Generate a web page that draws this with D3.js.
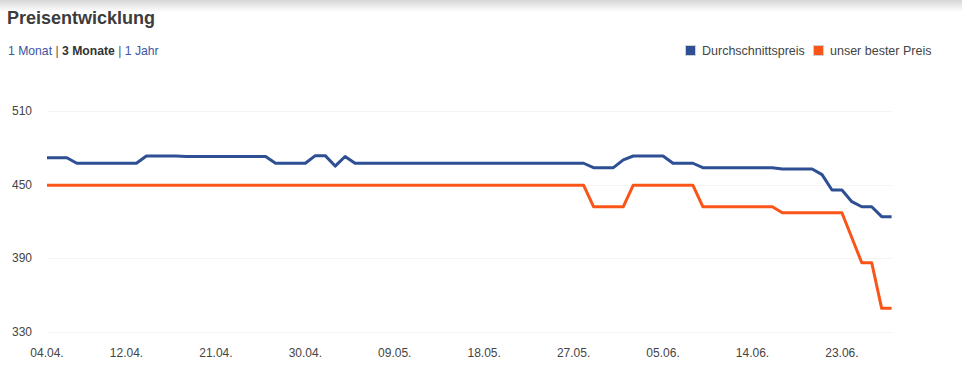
<!DOCTYPE html>
<html>
<head>
<meta charset="utf-8">
<script src="https://cdn.jsdelivr.net/npm/d3@7"></script>
<style>
    body { margin: 0; background: #fff; font-family: Arial, "Liberation Sans", sans-serif; }
    svg { display: block; }
</style>
</head>
<body>
<svg id="chart" width="962" height="387"></svg>
<script>
// Data (daily, 04.04. to 28.06.)
const startDate = "2013-04-04";
const avgPrice = [
    471.8, 471.8, 471.8, 467.3, 467.3, 467.3, 467.3, 467.3, 467.3, 467.3,
    473.2, 473.2, 473.2, 473.2, 472.8, 472.8, 472.8, 472.8, 472.8, 472.8,
    472.8, 472.8, 472.8, 467.3, 467.3, 467.3, 467.3, 473.5, 473.5, 465.0,
    472.8, 467.3, 467.3, 467.3, 467.3, 467.3, 467.3, 467.3, 467.3, 467.3,
    467.3, 467.3, 467.3, 467.3, 467.3, 467.3, 467.3, 467.3, 467.3, 467.3,
    467.3, 467.3, 467.3, 467.3, 467.3, 463.7, 463.7, 463.7, 470.0, 473.2,
    473.2, 473.2, 473.2, 467.3, 467.3, 467.3, 463.7, 463.7, 463.7, 463.7,
    463.7, 463.7, 463.7, 463.7, 462.6, 462.6, 462.6, 462.6, 458.0, 445.5,
    445.5, 436.0, 431.9, 431.9, 423.8, 423.8
];
const bestPrice = [
    449.4, 449.4, 449.4, 449.4, 449.4, 449.4, 449.4, 449.4, 449.4, 449.4,
    449.4, 449.4, 449.4, 449.4, 449.4, 449.4, 449.4, 449.4, 449.4, 449.4,
    449.4, 449.4, 449.4, 449.4, 449.4, 449.4, 449.4, 449.4, 449.4, 449.4,
    449.4, 449.4, 449.4, 449.4, 449.4, 449.4, 449.4, 449.4, 449.4, 449.4,
    449.4, 449.4, 449.4, 449.4, 449.4, 449.4, 449.4, 449.4, 449.4, 449.4,
    449.4, 449.4, 449.4, 449.4, 449.4, 431.9, 431.9, 431.9, 431.9, 449.4,
    449.4, 449.4, 449.4, 449.4, 449.4, 449.4, 431.9, 431.9, 431.9, 431.9,
    431.9, 431.9, 431.9, 431.9, 427.0, 427.0, 427.0, 427.0, 427.0, 427.0,
    427.0, 406.6, 386.3, 386.3, 349.2, 349.2
];
const xTickLabels = ["04.04.", "12.04.", "21.04.", "30.04.", "09.05.", "18.05.", "27.05.", "05.06.", "14.06.", "23.06."];
const yTicks = [330, 390, 450, 510];
const seriesNames = ["Durchschnittspreis", "unser bester Preis"];
const seriesColors = ["#2e4f93", "#fa5519"];

const parseDay = d3.timeParse("%Y-%m-%d");
const parseTick = d3.timeParse("%d.%m.%Y");
const start = parseDay(startDate);
const dates = avgPrice.map((_, i) => d3.timeDay.offset(start, i));

const svg = d3.select("#chart");

// top shadow
const defs = svg.append("defs");
const grad = defs.append("linearGradient")
    .attr("id", "topShade").attr("x1", 0).attr("y1", 0).attr("x2", 0).attr("y2", 1);
grad.append("stop").attr("offset", "0%").attr("stop-color", "#d6d6d6");
grad.append("stop").attr("offset", "100%").attr("stop-color", "#ffffff");
svg.append("rect").attr("x", 0).attr("y", 0).attr("width", 962).attr("height", 12)
    .attr("fill", "url(#topShade)");

// title
svg.append("text")
    .attr("x", 7).attr("y", 24)
    .attr("font-size", 18).attr("font-weight", "bold")
    .attr("fill", "#3c3c3c")
    .text("Preisentwicklung");

// range links
const links = svg.append("text").attr("x", 8).attr("y", 55).attr("font-size", 12.2);
links.append("tspan").attr("fill", "#3d55a3").text("1 Monat ");
links.append("tspan").attr("fill", "#555").text("| ");
links.append("tspan").attr("fill", "#333").attr("font-weight", "bold").text("3 Monate ");
links.append("tspan").attr("fill", "#555").text("| ");
links.append("tspan").attr("fill", "#3d55a3").text("1 Jahr");

// scales
const x = d3.scaleTime()
    .domain([dates[0], dates[dates.length - 1]])
    .range([47, 891.6]);
const y = d3.scaleLinear()
    .domain([330, 510])
    .range([331.9, 110.8]);

// grid
svg.append("g")
    .selectAll("line")
    .data(yTicks)
    .join("line")
    .attr("x1", 47).attr("x2", 892)
    .attr("y1", d => Math.round(y(d)) + 0.5)
    .attr("y2", d => Math.round(y(d)) + 0.5)
    .attr("stroke", "#f4f4f4")
    .attr("stroke-width", 1);

// y labels
svg.append("g")
    .selectAll("text")
    .data(yTicks)
    .join("text")
    .attr("x", 12)
    .attr("y", d => y(d))
    .attr("dy", "0.35em")
    .attr("font-size", 12)
    .attr("fill", "#444")
    .text(d => d);

// x labels
svg.append("g")
    .selectAll("text")
    .data(xTickLabels)
    .join("text")
    .attr("x", d => x(parseTick(d + "2013")))
    .attr("y", 357)
    .attr("text-anchor", "middle")
    .attr("font-size", 12)
    .attr("fill", "#444")
    .text(d => d);

// lines
const line = d3.line()
    .x((d, i) => x(dates[i]))
    .y(d => y(d));

[avgPrice, bestPrice].forEach((series, k) => {
    svg.append("path")
        .datum(series)
        .attr("fill", "none")
        .attr("stroke", seriesColors[k])
        .attr("stroke-width", 3)
        .attr("stroke-linejoin", "round")
        .attr("d", line);
});

// legend
const legendX = [685, 813];
seriesNames.forEach((name, k) => {
    const g = svg.append("g").attr("transform", `translate(${legendX[k]},45)`);
    g.append("rect")
        .attr("x", 0.5).attr("y", 0.5)
        .attr("width", 10).attr("height", 10)
        .attr("fill", seriesColors[k])
        .attr("stroke", "#d0d0d0");
    g.append("text")
        .attr("x", 17).attr("y", 10)
        .attr("font-size", 12.5)
        .attr("fill", "#444")
        .text(name);
});
</script>
</body>
</html>
